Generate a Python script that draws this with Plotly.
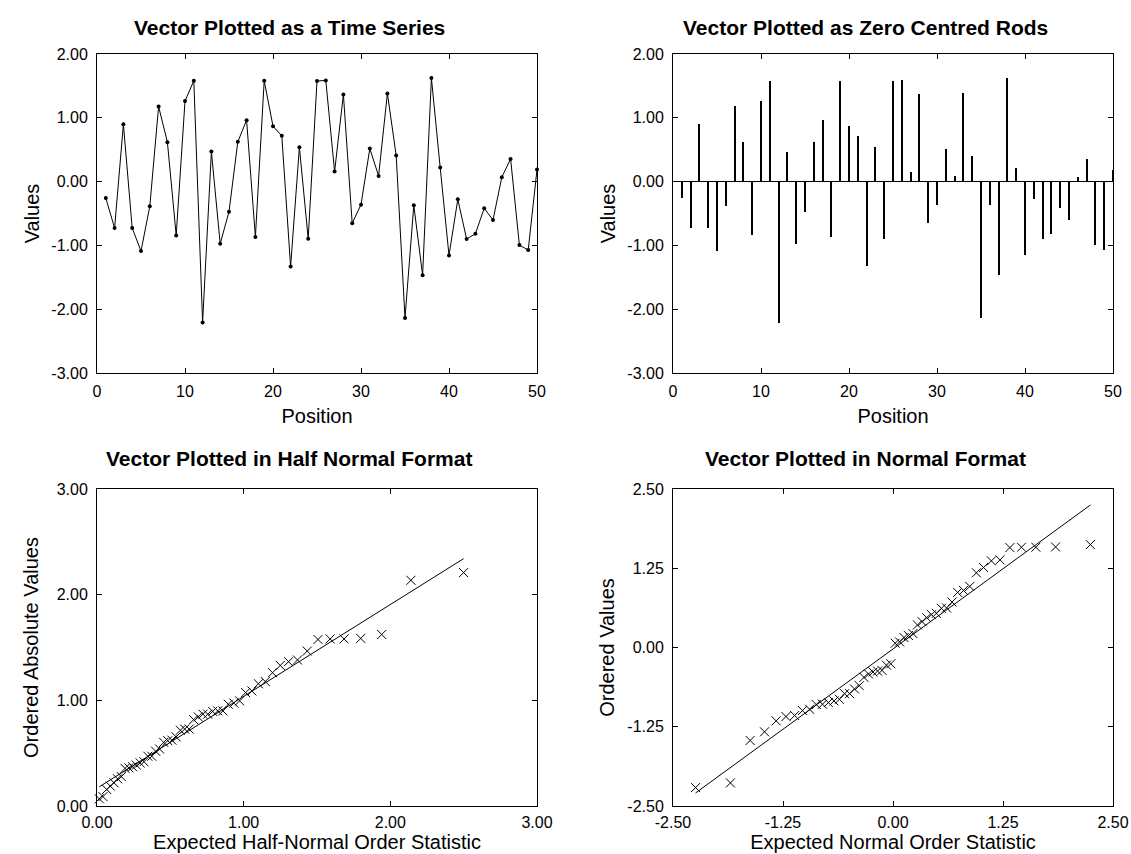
import numpy as np
import plotly.graph_objects as go
from statistics import NormalDist

# ---------------- data ----------------
positions = list(range(1, 51))
values = [-0.257, -0.728, 0.900, -0.728, -1.089, -0.387, 1.178, 0.618, -0.843, 1.262,
          1.581, -2.209, 0.471, -0.974, -0.471, 0.623, 0.963, -0.869, 1.581, 0.869,
          0.717, -1.330, 0.539, -0.895, 1.576, 1.586, 0.157, 1.366, -0.654, -0.361,
          0.518, 0.089, 1.382, 0.408, -2.136, -0.372, -1.466, 1.623, 0.220, -1.157,
          -0.278, -0.900, -0.817, -0.419, -0.602, 0.068, 0.356, -0.995, -1.073, 0.188]

pos_ticks = [0, 10, 20, 30, 40, 50]
ts_ticks = [-3, -2, -1, 0, 1, 2]
hn_ticks = [0, 1, 2, 3]
n_ticks = [-2.5, -1.25, 0, 1.25, 2.5]

titles = ["Vector Plotted as a Time Series", "Vector Plotted as Zero Centred Rods",
          "Vector Plotted in Half Normal Format", "Vector Plotted in Normal Format"]

# ---------------- derived: ordered values and expected order statistics ----------------
n = len(values)
nd = NormalDist()
probs = [(i - 0.375) / (n + 0.25) for i in range(1, n + 1)]
normal_scores = [nd.inv_cdf(q) for q in probs]
halfnormal_scores = [nd.inv_cdf(0.5 + 0.5 * q) for q in probs]
ordered_vals = sorted(values)
ordered_abs = sorted(abs(v) for v in values)
hn_slope, hn_int = np.polyfit(halfnormal_scores, ordered_abs, 1)
nn_slope, nn_int = np.polyfit(normal_scores, ordered_vals, 1)
hn_line_x = [halfnormal_scores[0], halfnormal_scores[-1]]
hn_line_y = [hn_int + hn_slope * x for x in hn_line_x]
nn_line_x = [normal_scores[0], normal_scores[-1]]
nn_line_y = [nn_int + nn_slope * x for x in nn_line_x]


def fmt2(vals):
    # ASCII hyphen-minus, two decimals, as in the reference
    return ["%.2f" % v for v in vals]


# ---------------- figure ----------------
W, H = 1131, 854
FONT = "Liberation Sans, Arial, Helvetica, sans-serif"


def xd(a, b):
    return [a / W, b / W]


def yd(top, bottom):
    return [(H - bottom) / H, (H - top) / H]


fig = go.Figure()

fig.add_trace(go.Scatter(x=positions, y=values, mode="lines+markers",
                         line=dict(color="black", width=1),
                         marker=dict(color="black", size=4),
                         cliponaxis=False, xaxis="x", yaxis="y", showlegend=False))
fig.add_trace(go.Bar(x=positions, y=values, width=0.13,
                     marker=dict(color="black", line=dict(width=0)),
                     xaxis="x2", yaxis="y2", showlegend=False))
fig.add_trace(go.Scatter(x=halfnormal_scores, y=ordered_abs, mode="markers",
                         marker=dict(symbol="x-thin", size=9, color="black",
                                     line=dict(width=1, color="black")),
                         cliponaxis=False, xaxis="x3", yaxis="y3", showlegend=False))
fig.add_trace(go.Scatter(x=hn_line_x, y=hn_line_y, mode="lines",
                         line=dict(color="black", width=1),
                         xaxis="x3", yaxis="y3", showlegend=False))
fig.add_trace(go.Scatter(x=normal_scores, y=ordered_vals, mode="markers",
                         marker=dict(symbol="x-thin", size=9, color="black",
                                     line=dict(width=1, color="black")),
                         cliponaxis=False, xaxis="x4", yaxis="y4", showlegend=False))
fig.add_trace(go.Scatter(x=nn_line_x, y=nn_line_y, mode="lines",
                         line=dict(color="black", width=1),
                         xaxis="x4", yaxis="y4", showlegend=False))

common = dict(showline=True, linecolor="black", linewidth=1, mirror="allticks",
              ticks="inside", ticklen=5, tickcolor="black", tickwidth=1,
              showgrid=False, zeroline=False, automargin=False,
              tickfont=dict(size=16, color="black", family=FONT),
              title_font=dict(size=20, color="black", family=FONT))

L_dom = xd(97, 537)
R_dom = xd(673, 1113)
T_dom = yd(54, 373)
B_dom = yd(489, 806)

fig.update_layout(
    xaxis=dict(common, domain=L_dom, anchor="y", range=[0, 50], tickvals=pos_ticks,
               title=dict(text="Position", standoff=9), ticklabelstandoff=4),
    yaxis=dict(common, domain=T_dom, anchor="x", range=[-3, 2], tickvals=ts_ticks,
               ticktext=fmt2(ts_ticks), title=dict(text="Values", standoff=6),
               ticklabelstandoff=5),
    xaxis2=dict(common, domain=R_dom, anchor="y2", range=[0, 50], tickvals=pos_ticks,
                title=dict(text="Position", standoff=9), ticklabelstandoff=4),
    yaxis2=dict(common, domain=T_dom, anchor="x2", range=[-3, 2], tickvals=ts_ticks,
                ticktext=fmt2(ts_ticks), title=dict(text="Values", standoff=6),
                ticklabelstandoff=5,
                zeroline=True, zerolinecolor="black", zerolinewidth=1),
    xaxis3=dict(common, domain=L_dom, anchor="y3", range=[0, 3], tickvals=hn_ticks,
                ticktext=fmt2(hn_ticks),
                title=dict(text="Expected Half-Normal Order Statistic", standoff=4),
                ticklabelstandoff=2),
    yaxis3=dict(common, domain=B_dom, anchor="x3", range=[0, 3], tickvals=hn_ticks,
                ticktext=fmt2(hn_ticks),
                title=dict(text="Ordered Absolute Values", standoff=12),
                ticklabelstandoff=5),
    xaxis4=dict(common, domain=R_dom, anchor="y4", range=[-2.5, 2.5], tickvals=n_ticks,
                ticktext=fmt2(n_ticks),
                title=dict(text="Expected Normal Order Statistic", standoff=4),
                ticklabelstandoff=2),
    yaxis4=dict(common, domain=B_dom, anchor="x4", range=[-2.5, 2.5], tickvals=n_ticks,
                ticktext=fmt2(n_ticks), title=dict(text="Ordered Values", standoff=7),
                ticklabelstandoff=5),
    width=W, height=H, margin=dict(l=0, r=0, t=0, b=0),
    paper_bgcolor="white", plot_bgcolor="white",
    font=dict(family=FONT, color="black"),
    bargap=0,
)

title_pos = [(289, 27.5), (865, 27.5), (289, 458.5), (865, 458.5)]
for t, (px, py) in zip(titles, title_pos):
    fig.add_annotation(text="<b>%s</b>" % t, x=px / W, y=(H - py) / H,
                       xref="paper", yref="paper", xanchor="center", yanchor="middle",
                       showarrow=False, font=dict(size=21, color="black", family=FONT))

fig.write_html("out.html", config={"displayModeBar": False},
               post_script="document.body.style.margin='0';document.body.style.overflow='hidden';")
